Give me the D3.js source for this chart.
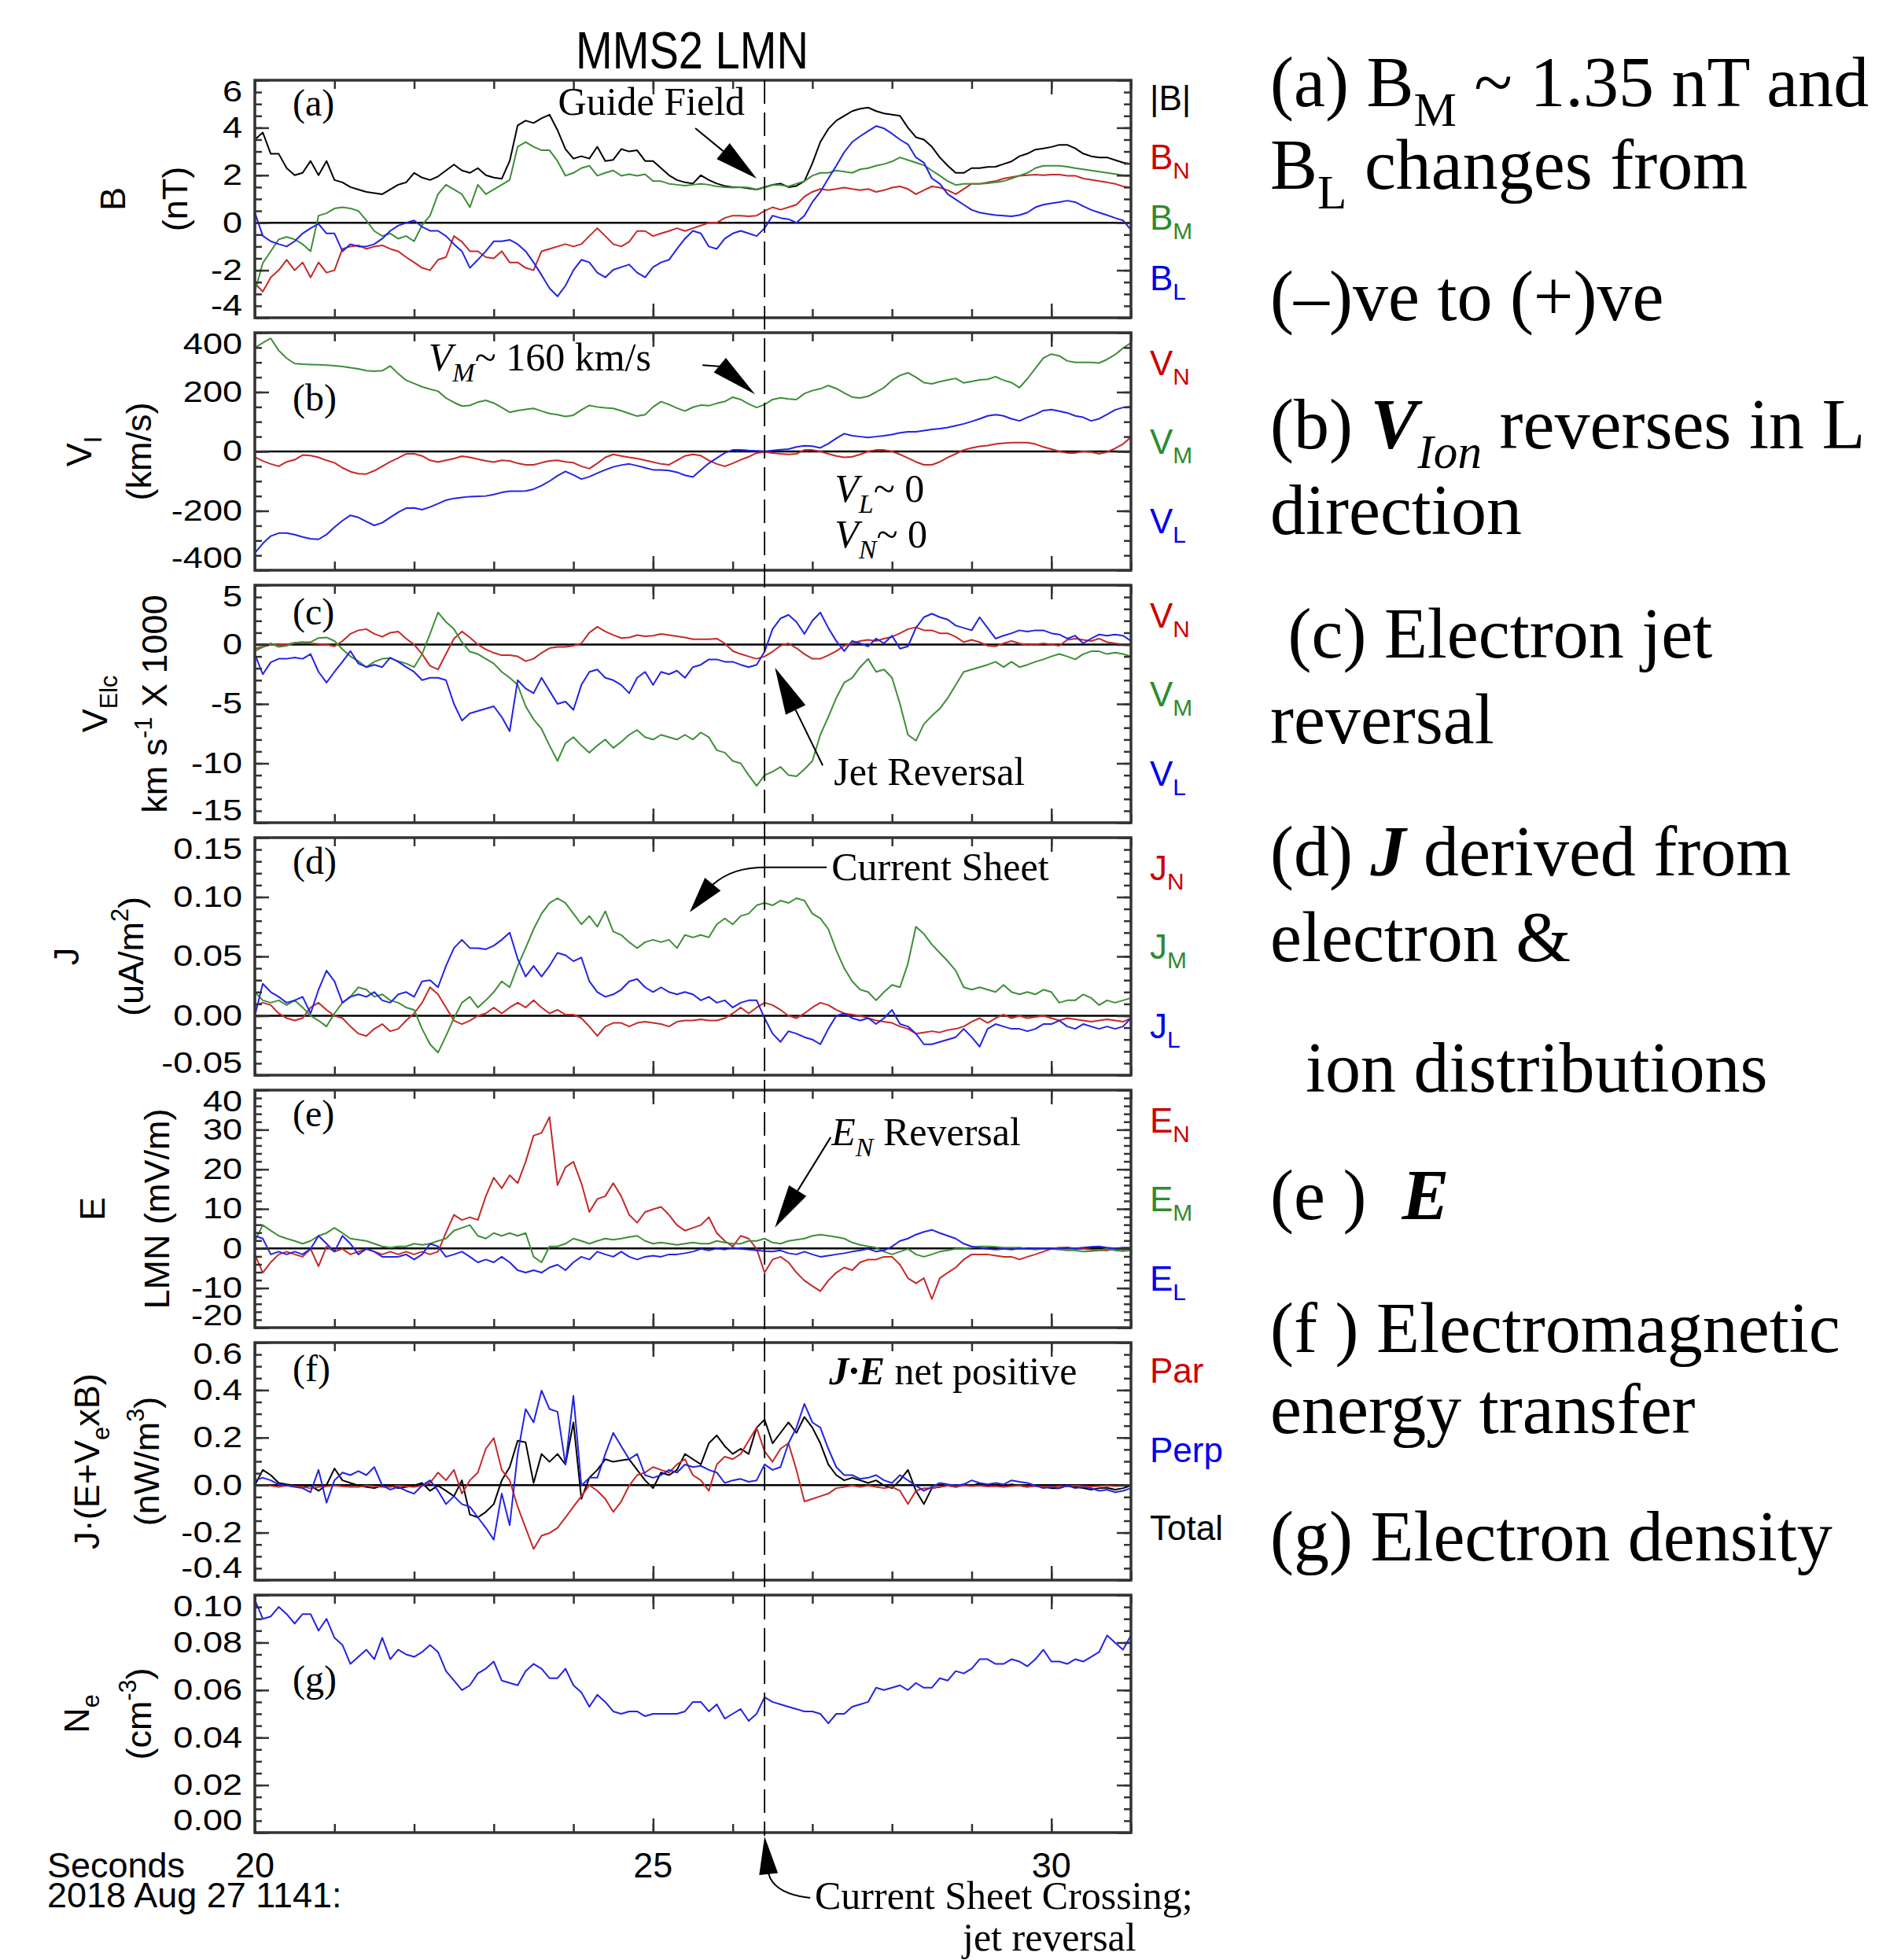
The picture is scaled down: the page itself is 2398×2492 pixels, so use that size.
<!DOCTYPE html>
<html>
<head>
<meta charset="utf-8">
<title>MMS2 LMN</title>
<script src="https://d3js.org/d3.v7.min.js"></script>
<style>
  body { margin: 0; background: #fff; }
  text { white-space: pre; font-family: 'Liberation Sans', Arial, Helvetica, sans-serif; }
  .serif { font-family: 'Liberation Serif', 'Times New Roman', serif; }
</style>
</head>
<body>
<script>
// ---- data: samples every 0.1 s from 20.0 to 31.0 s (2018 Aug 27 11:41) ----
// (a) magnetic field, nT
const bTotal = [3.5, 3.8, 2.9, 2.9, 2.3, 2.0, 2.1, 2.6, 2.0, 2.6, 1.8,
  1.7, 1.5, 1.4, 1.3, 1.25, 1.2, 1.4, 1.6, 1.7, 2.1,
  1.9, 1.8, 1.95, 2.2, 2.45, 2.2, 2.1, 2.3, 2.0, 1.9,
  1.85, 2.6, 4.1, 4.3, 4.2, 4.4, 4.55, 3.9, 3.1, 2.7,
  2.8, 2.7, 3.2, 2.6, 2.65, 3.1, 3.0, 3.05, 2.6, 2.6,
  2.3, 2.0, 1.8, 1.7, 1.65, 2.0, 1.8, 1.65, 1.55, 1.5,
  1.5, 1.45, 1.4, 1.5, 1.6, 1.65, 1.5, 1.55, 1.75, 2.5,
  3.4, 3.95, 4.3, 4.5, 4.7, 4.8, 4.85, 4.7, 4.6, 4.55,
  4.5, 4.0, 3.6, 3.5, 3.2, 2.75, 2.4, 2.1, 2.1, 2.3,
  2.3, 2.35, 2.36, 2.47, 2.58, 2.8, 2.91, 3.08, 3.13, 3.19,
  3.28, 3.28, 3.13, 2.91, 2.8, 2.75, 2.75, 2.64, 2.53, 2.47];
const bN = [-2.55, -2.9, -2.3, -2.0, -1.56, -2.0, -1.67, -2.3, -1.67, -2.1, -2.0,
  -1.1, -1.0, -0.95, -1.1, -1.0, -0.95, -1.1, -1.2, -1.45, -1.67,
  -1.9, -2.0, -1.56, -1.45, -0.56, -0.8, -1.2, -1.2, -1.45, -1.5,
  -1.2, -1.67, -1.67, -1.9, -2.0, -1.2, -1.1, -1.0, -0.9, -1.0,
  -0.9, -0.56, -0.23, -0.56, -0.9, -1.0, -0.8, -0.35, -0.35, -0.56,
  -0.45, -0.35, -0.23, -0.35, -0.23, -0.12, 0.0, 0.0, 0.2, 0.3,
  0.3, 0.27, 0.3, 0.5, 0.65, 0.55, 0.65, 0.76, 1.1, 1.3,
  1.42, 1.37, 1.42, 1.48, 1.42, 1.37, 1.42, 1.3, 1.37, 1.48,
  1.53, 1.42, 1.2, 1.37, 1.53, 1.48, 1.37, 1.2, 1.42, 1.64,
  1.64, 1.7, 1.75, 1.86, 1.92, 1.98, 2.0, 2.03, 2.0, 2.03,
  2.03, 1.98, 1.98, 1.86, 1.81, 1.75, 1.7, 1.64, 1.53, 1.48];
const bM = [-2.9, -1.7, -1.2, -0.7, -0.6, -0.7, -0.9, -1.2, 0.3, 0.4, 0.6,
  0.65, 0.6, 0.5, 0.1, -0.35, -0.56, -0.45, -0.67, -0.56, -0.78,
  -0.1, 0.3, 1.2, 1.6, 1.4, 1.2, 0.65, 1.6, 1.2, 1.4,
  1.6, 1.8, 3.2, 3.4, 3.2, 3.05, 3.05, 2.6, 1.98, 2.1,
  2.3, 2.4, 1.98, 2.1, 2.2, 1.98, 2.04, 1.98, 2.04, 1.75,
  1.75, 1.64, 1.6, 1.56, 1.6, 1.64, 1.6, 1.53, 1.5, 1.48,
  1.5, 1.48, 1.4, 1.48, 1.59, 1.59, 1.53, 1.64, 1.75, 1.98,
  2.1, 2.1, 2.2, 2.15, 2.1, 2.25, 2.3, 2.4, 2.47, 2.58,
  2.75, 2.64, 2.53, 2.42, 2.2, 1.98, 1.75, 1.59, 1.64, 1.64,
  1.64, 1.66, 1.7, 1.75, 1.86, 1.98, 2.1, 2.3, 2.4, 2.4,
  2.4, 2.36, 2.3, 2.25, 2.2, 2.15, 2.1, 2.05, 2.0, 2.0];
const bL = [0.43, -0.55, -0.78, -0.9, -1.0, -0.78, -0.45, -0.23, -0.05, -0.45, -0.45,
  -1.2, -0.9, -1.0, -1.0, -0.9, -0.67, -0.34, -0.12, 0.0, 0.1,
  -0.17, -0.34, -0.34, -0.56, -0.9, -1.2, -1.9, -1.56, -1.2, -0.78,
  -0.78, -0.72, -0.9, -1.2, -1.67, -2.2, -2.76, -3.1, -2.65, -2.0,
  -1.56, -1.67, -2.1, -2.3, -1.98, -1.87, -1.76, -2.1, -2.3, -1.87,
  -1.67, -1.56, -1.1, -0.67, -0.34, -0.45, -1.0, -1.1, -0.67, -0.45,
  -0.34, -0.45, -0.56, -0.23, 0.3, 0.2, 0.15, 0.0, 0.3, 0.87,
  1.3, 1.86, 2.4, 2.97, 3.4, 3.64, 3.86, 4.07, 3.97, 3.75,
  3.5, 3.3, 2.75, 2.53, 1.87, 1.64, 1.2, 0.98, 0.76, 0.54,
  0.43, 0.37, 0.32, 0.3, 0.27, 0.32, 0.43, 0.65, 0.76, 0.82,
  0.87, 0.93, 0.87, 0.7, 0.54, 0.43, 0.32, 0.2, 0.1, -0.3];

// (b) ion velocity, km/s
const viN = [-19, -32, -42, -50, -35, -28, -12, -14, -20, -30, -38,
  -55, -68, -75, -76, -65, -50, -35, -22, -8, -8,
  -15, -30, -36, -30, -24, -16, -20, -26, -32, -36,
  -30, -32, -40, -45, -45, -38, -32, -30, -35, -38,
  -50, -58, -40, -20, -10, -15, -20, -24, -30, -36,
  -42, -45, -30, -15, -10, -14, -30, -42, -50, -40,
  -28, -18, -5, -2, -5, -8, -10, -8, 5, 5,
  0, -8, -15, -20, -18, -10, 0, 5, 5, 0,
  -10, -22, -35, -45, -45, -35, -20, -8, 5, 12,
  17, 20, 25, 28, 30, 30, 30, 25, 15, 8,
  0, -5, -5, 0, -2, -8, -2, 10, 25, 48];
const viM = [349, 366, 381, 340, 314, 296, 294, 293, 292, 291, 289,
  286, 282, 278, 272, 270, 272, 288, 262, 240, 229,
  218, 210, 203, 180, 165, 153, 155, 166, 172, 163,
  148, 132, 138, 142, 145, 136, 128, 124, 118, 122,
  140, 155, 150, 147, 145, 137, 128, 119, 124, 150,
  168, 158, 146, 136, 149, 156, 154, 162, 168, 183,
  175, 160, 148, 158, 175, 181, 177, 175, 195, 205,
  211, 222, 212, 197, 183, 180, 186, 200, 215, 240,
  256, 265, 250, 232, 228, 235, 241, 246, 231, 236,
  241, 243, 252, 240, 232, 215, 245, 280, 315, 328,
  322, 305, 300, 300, 300, 298, 310, 326, 348, 366];
const viL = [-342, -310, -285, -275, -275, -280, -288, -294, -296, -280, -255,
  -233, -215, -222, -236, -249, -240, -222, -205, -191, -190,
  -196, -187, -176, -164, -158, -155, -152, -151, -150, -145,
  -138, -134, -134, -133, -127, -115, -100, -82, -67, -79,
  -93, -85, -73, -62, -52, -46, -42, -48, -55, -62,
  -62, -64, -70, -80, -86, -62, -40, -22, -5, 5,
  5, 3, 2, 0, 3, 6, 8, 15, 19, 18,
  12, 26, 44, 60, 53, 50, 47, 50, 53, 57,
  63, 66, 66, 70, 74, 77, 81, 87, 93, 101,
  110, 120, 124, 120, 110, 103, 115, 125, 138, 141,
  136, 130, 120, 115, 103, 110, 125, 140, 148, 151];

// (c) electron velocity, km/s x 1000
const veN = [-0.35, -0.2, 0.0, 0.05, 0.0, 0.15, 0.2, 0.1, 0.05, 0.0, -0.15,
  0.3, 0.9, 1.2, 1.3, 0.9, 0.65, 1.0, 1.1, 0.5, 0.0,
  -0.8, -1.8, -2.1, -0.8, 0.5, 1.1, 0.6, 0.0, -0.4, -0.7,
  -0.9, -0.9, -1.0, -1.4, -1.2, -0.7, -0.3, -0.2, -0.2, -0.1,
  0.1, 1.0, 1.5, 1.1, 0.8, 0.55, 0.6, 0.8, 0.7, 0.75,
  0.9, 0.8, 0.7, 0.6, 0.45, 0.45, 0.45, 0.5, 0.1, -0.55,
  -0.8, -1.0, -1.2, -1.0, -0.6, -0.1, 0.1, -0.3, -0.8, -1.2,
  -1.2, -0.9, -0.55, -0.1, 0.1, 0.3, 0.4, 0.3, 0.5, 0.65,
  0.95, 1.3, 1.45, 1.2, 1.2, 0.95, 0.95, 0.65, 0.2, 0.4,
  0.2, -0.1, -0.15, 0.1, 0.3, 0.1, -0.05, 0.0, 0.1, 0.0,
  -0.1, 0.4, 0.5, 0.4, 0.3, 0.5, 0.2, 0.1, 0.0, 0.05];
const veM = [-0.57, -0.2, 0.1, -0.2, -0.1, 0.15, 0.2, 0.2, 0.55, 0.6, 0.3,
  -0.4, -1.0, -1.4, -1.9, -1.45, -1.2, -1.15, -1.4, -1.6, -1.9,
  -0.8, 0.9, 2.7, 1.9, 1.3, 0.2, -0.6, -0.8, -1.2, -1.6,
  -2.3, -2.8, -3.4, -5.2, -6.3, -7.1, -8.5, -9.8, -8.3, -7.8,
  -8.5, -9.1, -8.5, -8.0, -8.7, -8.2, -7.6, -7.2, -7.8, -8.0,
  -7.6, -7.8, -8.0, -7.6, -8.0, -7.4, -7.8, -8.9, -9.1, -9.8,
  -10.0, -11.0, -11.9, -11.0, -10.7, -10.3, -11.0, -11.1, -10.5, -9.8,
  -7.6, -6.1, -4.5, -3.2, -2.8, -1.9, -1.2, -2.3, -2.1, -2.8,
  -5.0, -7.6, -8.1, -6.7, -6.0, -5.4, -4.5, -3.4, -2.3, -2.1,
  -1.9, -1.7, -1.45, -1.9, -1.45, -1.9, -1.7, -1.45, -1.25, -1.0,
  -0.8, -1.0, -1.25, -0.8, -0.57, -0.57, -0.8, -0.68, -0.8, -1.0];
const veL = [-0.8, -2.5, -1.5, -1.2, -1.2, -1.1, -1.2, -0.8, -2.3, -3.2, -2.3,
  -1.45, -0.55, -1.6, -1.9, -1.7, -1.9, -1.1, -1.45, -1.9, -2.3,
  -3.0, -2.8, -2.8, -3.0, -5.0, -6.4, -5.8, -5.6, -5.4, -5.2,
  -6.1, -7.3, -3.0, -3.7, -4.1, -2.8, -3.9, -5.0, -4.8, -5.5,
  -3.4, -2.3, -2.1, -2.8, -3.0, -3.4, -4.1, -2.8, -2.3, -3.4,
  -2.3, -2.5, -2.2, -2.8, -1.9, -1.7, -1.25, -1.25, -1.45, -1.45,
  -1.7, -1.9, -1.7, -0.6, 1.3, 2.2, 2.5, 1.9, 0.9, 2.0,
  2.7, 1.4, 0.3, -0.55, 0.3, 0.1, -0.15, 0.5, 0.1, 0.75,
  -0.35, -0.15, 1.4, 2.3, 2.6, 2.3, 2.1, 1.6, 1.4, 1.2,
  2.3, 1.4, 0.5, 0.75, 0.95, 1.2, 1.1, 1.2, 1.2, 0.95,
  0.85, 0.5, 0.75, 0.1, 0.5, 0.85, 0.75, 0.85, 0.75, 0.3];

// (d) current density, uA/m^2
const jN = [0.009, 0.011, 0.009, 0.002, -0.002, -0.004, -0.002, 0.007, 0.011, 0.005, 0.000,
  -0.002, -0.009, -0.015, -0.017, -0.011, -0.007, -0.013, -0.011, -0.004, 0.002,
  0.011, 0.024, 0.018, 0.007, -0.004, -0.007, -0.004, 0.000, 0.002, 0.007,
  0.002, 0.007, 0.011, 0.007, 0.013, 0.007, 0.002, 0.005, 0.001, 0.001,
  -0.002, -0.009, -0.017, -0.009, -0.006, -0.006, -0.009, -0.006, -0.005, -0.006,
  -0.007, -0.009, -0.005, -0.004, -0.004, -0.003, -0.004, -0.004, -0.002, 0.002,
  0.007, 0.002, 0.007, 0.011, 0.009, 0.005, 0.000, -0.002, 0.002, 0.007,
  0.011, 0.009, 0.005, 0.002, 0.001, 0.000, -0.002, -0.004, -0.005, -0.006,
  -0.009, -0.011, -0.015, -0.014, -0.013, -0.014, -0.012, -0.011, -0.009, -0.005,
  -0.002, -0.006, -0.002, 0.001, -0.002, 0.000, -0.002, -0.001, 0.000, -0.002,
  -0.004, -0.002, -0.003, -0.004, -0.005, -0.004, -0.003, -0.004, -0.005, -0.002];
const jM = [0.020, 0.013, 0.011, 0.013, 0.009, 0.013, 0.007, 0.000, -0.004, -0.009, 0.002,
  0.011, 0.016, 0.024, 0.022, 0.016, 0.018, 0.013, 0.011, 0.007, 0.005,
  -0.011, -0.024, -0.031, -0.017, -0.002, 0.011, 0.016, 0.007, 0.013, 0.020,
  0.029, 0.024, 0.042, 0.057, 0.073, 0.086, 0.095, 0.099, 0.095, 0.086,
  0.077, 0.084, 0.075, 0.088, 0.071, 0.068, 0.062, 0.057, 0.062, 0.064,
  0.062, 0.064, 0.057, 0.068, 0.066, 0.068, 0.066, 0.077, 0.082, 0.077,
  0.084, 0.086, 0.093, 0.095, 0.093, 0.097, 0.095, 0.099, 0.097, 0.086,
  0.082, 0.073, 0.055, 0.040, 0.029, 0.022, 0.020, 0.013, 0.020, 0.026,
  0.024, 0.044, 0.075, 0.069, 0.060, 0.053, 0.046, 0.038, 0.024, 0.022,
  0.024, 0.022, 0.020, 0.026, 0.020, 0.018, 0.020, 0.018, 0.022, 0.020,
  0.011, 0.013, 0.013, 0.018, 0.015, 0.009, 0.013, 0.011, 0.013, 0.015];
const jL = [0.000, 0.027, 0.020, 0.016, 0.011, 0.013, 0.016, 0.002, 0.022, 0.038, 0.029,
  0.011, 0.016, 0.018, 0.016, 0.020, 0.013, 0.011, 0.018, 0.020, 0.016,
  0.029, 0.030, 0.024, 0.042, 0.057, 0.064, 0.057, 0.057, 0.056, 0.059,
  0.064, 0.070, 0.048, 0.033, 0.042, 0.033, 0.042, 0.053, 0.051, 0.046,
  0.049, 0.029, 0.020, 0.016, 0.018, 0.022, 0.029, 0.031, 0.024, 0.020,
  0.024, 0.020, 0.018, 0.020, 0.018, 0.013, 0.016, 0.011, 0.013, 0.007,
  0.011, 0.013, 0.013, -0.002, -0.015, -0.022, -0.013, -0.015, -0.018, -0.020,
  -0.024, -0.011, 0.000, 0.002, -0.002, -0.004, -0.002, -0.007, -0.002, 0.005,
  -0.007, -0.009, -0.015, -0.024, -0.024, -0.022, -0.020, -0.018, -0.011, -0.018,
  -0.026, -0.011, -0.007, -0.009, -0.011, -0.011, -0.013, -0.011, -0.007, -0.007,
  -0.004, -0.009, -0.011, -0.007, -0.009, -0.011, -0.009, -0.011, -0.009, -0.002];

// (e) electric field, mV/m
const eN = [-1.5, -6.1, -3.5, -1.5, -0.8, -1.5, -2.1, -0.1, -4.5, 0.5, -0.8,
  -0.1, -1.5, -0.8, -0.1, -0.8, -1.5, -0.8, -1.5, -0.8, -1.5,
  -0.8, -1.5, -0.8, 4.0, 8.5, 7.2, 7.9, 7.2, 13.2, 17.9,
  15.2, 18.5, 16.5, 21.9, 28.5, 29.2, 33.2, 16.0, 20.5, 21.9,
  16.5, 9.2, 12.5, 13.2, 16.5, 13.2, 8.5, 6.5, 9.2, 9.9,
  10.5, 8.5, 5.9, 4.5, 5.2, 5.9, 7.9, 3.9, 1.9, 0.5,
  3.2, 2.5, -0.1, -6.1, -2.8, -2.1, -3.5, -6.1, -8.1, -9.5,
  -10.8, -8.1, -6.1, -4.8, -5.5, -3.5, -2.8, -2.8, -2.1, -2.1,
  -4.1, -7.5, -8.8, -7.5, -12.8, -7.5, -6.1, -4.8, -2.8, -1.5,
  -1.5, -1.5, -1.8, -2.1, -2.1, -2.8, -2.1, -1.5, -0.8, -0.1,
  0.2, 0.2, -0.1, -0.1, -0.3, -0.5, -0.5, -0.1, -0.3, -0.1];
const eM = [1.9, 5.9, 4.5, 3.2, 2.5, 1.9, 1.2, 1.9, 3.2, 3.9, 5.2,
  3.9, 2.5, 2.2, 1.9, 1.2, 0.5, 0.2, 0.5, 0.5, 1.2,
  0.9, 1.2, 1.9, 2.5, 4.5, 5.2, 5.9, 3.2, 2.5, 3.9,
  3.2, 3.9, 3.2, 3.9, -2.1, -3.5, 0.5, 0.5, 1.2, 2.5,
  1.9, 1.2, 1.9, 2.5, 2.2, 2.5, 2.9, 3.2, 1.9, 1.2,
  1.5, 1.2, 0.9, 1.2, 1.5, 1.2, 1.2, 1.9, 1.5, 1.2,
  1.2, 1.9, 1.9, 2.5, 1.5, 1.2, 1.9, 2.2, 2.5, 3.2,
  3.5, 3.2, 2.9, 2.5, 1.5, 0.9, 0.5, 0.2, -0.8, -1.5,
  -0.8, -0.1, -1.5, -2.1, -1.5, -0.8, -0.5, -0.1, 0.0, 0.2,
  0.5, 0.5, 0.4, 0.2, 0.2, 0.2, -0.1, -0.3, -0.1, -0.1,
  -0.3, -0.5, -0.5, -0.8, -0.7, -0.5, -0.1, -0.5, -0.7, -0.5];
const eL = [3.2, 2.5, -1.5, -0.8, -1.5, -0.8, -1.5, -0.1, 3.2, 1.2, -0.8,
  3.2, 1.2, -1.5, -0.1, -0.8, -2.1, -2.1, -2.1, -1.5, -2.8,
  -1.5, 1.2, 0.5, -2.1, -1.5, -0.8, -2.1, -3.5, -2.8, -3.5,
  -2.1, -3.5, -5.5, -6.1, -5.5, -6.1, -4.8, -4.1, -5.5, -3.5,
  -2.1, -2.8, -0.8, -1.5, -2.1, -0.8, -2.1, -2.8, -2.1, -1.8,
  -2.1, -1.5, -1.5, -1.2, -0.8, -0.1, -0.5, 0.0, -0.3, 0.2,
  -0.1, -0.3, -0.5, -0.7, -0.8, -0.5, -1.2, -1.5, -0.8, -1.5,
  -2.1, -1.8, -1.5, -1.2, -0.8, -0.5, -0.1, -0.8, -0.5, 0.5,
  1.9, 2.5, 3.5, 4.2, 4.7, 3.9, 3.2, 2.5, 1.2, 0.5,
  0.2, -0.1, -0.3, -0.1, -0.3, 0.0, -0.1, 0.0, 0.0, -0.1,
  0.0, 0.2, 0.0, 0.2, 0.4, 0.5, 0.2, 0.0, 0.2, 0.2];

// (f) J.(E+Ve x B), nW/m^3
const jePar = [-0.002, -0.002, -0.003, -0.008, -0.002, -0.005, -0.008, -0.013, -0.008, -0.005, -0.002,
  -0.005, -0.008, -0.008, -0.002, -0.005, -0.008, -0.008, -0.002, -0.005, -0.008,
  -0.002, 0.009, 0.053, 0.020, 0.064, -0.036, 0.020, 0.053, 0.153, 0.198,
  0.064, 0.020, -0.091, -0.180, -0.269, -0.213, -0.202, -0.180, -0.136, -0.091,
  -0.047, 0.000, -0.024, -0.058, -0.113, -0.069, -0.002, 0.042, 0.053, 0.076,
  0.064, 0.053, 0.087, 0.109, 0.042, 0.020, -0.024, 0.087, 0.120, 0.109,
  0.131, 0.187, 0.242, 0.142, 0.098, 0.153, 0.176, 0.064, -0.069, -0.058,
  -0.047, -0.036, -0.013, -0.008, -0.002, -0.008, -0.002, -0.008, -0.013, -0.008,
  -0.024, -0.080, -0.024, -0.013, -0.013, -0.008, -0.002, -0.008, -0.002, -0.004,
  -0.002, -0.006, -0.004, -0.008, -0.004, -0.002, -0.006, -0.004, -0.006, -0.008,
  -0.004, -0.006, -0.002, -0.004, -0.006, -0.004, -0.002, -0.004, -0.002, -0.002];
const jePerp = [0.020, 0.031, 0.020, 0.003, -0.002, -0.008, -0.013, -0.030, 0.064, -0.074, 0.020,
  0.053, 0.042, 0.059, 0.042, 0.076, -0.002, -0.019, -0.008, -0.024, -0.036,
  -0.002, 0.020, -0.024, -0.080, -0.047, -0.080, -0.091, -0.136, -0.180, -0.230,
  -0.036, -0.169, 0.131, 0.320, 0.264, 0.398, 0.320, 0.309, 0.087, 0.376,
  -0.002, 0.031, 0.031, 0.131, 0.220, 0.164, 0.109, 0.131, 0.042, 0.031,
  0.042, 0.064, 0.053, 0.087, 0.076, 0.081, 0.064, 0.053, 0.009, 0.020,
  0.026, 0.014, 0.020, 0.087, 0.064, 0.076, 0.176, 0.242, 0.342, 0.264,
  0.242, 0.153, 0.076, 0.042, 0.042, 0.026, 0.031, 0.042, 0.020, 0.009,
  0.042, 0.020, -0.002, -0.024, -0.008, 0.009, 0.003, -0.002, 0.003, 0.020,
  0.009, 0.003, 0.009, 0.003, 0.020, 0.014, 0.009, -0.002, -0.013, -0.008,
  -0.013, -0.002, -0.013, -0.008, -0.013, -0.024, -0.019, -0.030, -0.024, -0.013];
const jeTotal = [0.000, 0.064, 0.042, 0.009, 0.003, -0.002, -0.008, -0.002, -0.024, 0.000, 0.070,
  0.020, 0.009, -0.002, -0.008, -0.013, -0.002, -0.002, -0.013, -0.008, -0.002,
  0.009, -0.024, -0.002, -0.024, -0.047, 0.020, -0.124, -0.136, -0.113, -0.080,
  0.020, 0.076, 0.187, 0.180, 0.009, 0.131, 0.098, 0.131, 0.087, 0.264,
  -0.058, 0.031, 0.064, 0.109, 0.098, 0.104, 0.109, 0.064, 0.020, -0.013,
  0.053, 0.042, 0.064, 0.131, 0.109, 0.087, 0.176, 0.209, 0.164, 0.131,
  0.153, 0.131, 0.242, 0.276, 0.176, 0.220, 0.264, 0.220, 0.287, 0.242,
  0.176, 0.087, 0.042, 0.020, 0.031, 0.020, 0.009, 0.020, -0.002, -0.013,
  0.020, 0.064, -0.024, -0.080, -0.013, -0.008, -0.002, -0.008, 0.003, -0.002,
  0.007, -0.002, 0.000, -0.002, 0.003, -0.002, -0.008, -0.002, -0.008, -0.013,
  -0.013, -0.002, -0.008, -0.013, -0.019, -0.013, -0.011, -0.019, -0.013, -0.002];

// (g) electron density, cm^-3
const ne = [0.098, 0.090, 0.091, 0.095, 0.092, 0.088, 0.092, 0.092, 0.085, 0.090, 0.082,
  0.079, 0.071, 0.074, 0.077, 0.073, 0.082, 0.073, 0.077, 0.075, 0.074,
  0.076, 0.079, 0.076, 0.068, 0.064, 0.060, 0.062, 0.067, 0.069, 0.072,
  0.064, 0.063, 0.062, 0.068, 0.071, 0.069, 0.065, 0.065, 0.069, 0.062,
  0.059, 0.053, 0.058, 0.055, 0.051, 0.050, 0.051, 0.051, 0.049, 0.050,
  0.050, 0.050, 0.050, 0.051, 0.055, 0.055, 0.051, 0.054, 0.048, 0.050,
  0.052, 0.047, 0.050, 0.057, 0.055, 0.054, 0.053, 0.052, 0.051, 0.051,
  0.050, 0.046, 0.050, 0.050, 0.053, 0.054, 0.055, 0.061, 0.060, 0.061,
  0.062, 0.060, 0.063, 0.061, 0.061, 0.065, 0.064, 0.068, 0.067, 0.069,
  0.073, 0.073, 0.071, 0.071, 0.073, 0.072, 0.070, 0.073, 0.077, 0.072,
  0.072, 0.071, 0.073, 0.072, 0.074, 0.076, 0.083, 0.080, 0.077, 0.083];

const time = bTotal.map((d, i) => 20 + i / 10);
const crossing = 26.4;
const secTicks = [20, 21, 22, 23, 24, 25, 26, 27, 28, 29, 30, 31];
const secLabels = [20, 25, 30];

// ---- layout ----
const W = 2398, H = 2492;
const top0 = 102, pitch = 321, panelH = 302;
const x = d3.scaleLinear().domain([20, 31]).range([324, 1438]);
const X0 = x.range()[0], X1 = x.range()[1];

const red = '#c42a2a', green = '#3e8e38', blue = '#2323e2', black = '#000';
const redT = '#cc0000', greenT = '#2e8b2e', blueT = '#0000ee';

const fmt0 = d => String(d);
const fmt2 = d => d.toFixed(2);
const fmt1 = d => d.toFixed(1);
const lg3 = [54, 154, 255];

const panels = [
  { domain: [-4, 6], ticks: [-4, -2, 0, 2, 4, 6], minor: 0.5, fmt: fmt0, zero: true,
    series: [[bTotal, black], [bN, red], [bM, green], [bL, blue]],
    legend: [[[['|B|', 'n']], black], [[['B', 'n'], ['N', 'sub']], redT],
             [[['B', 'n'], ['M', 'sub']], greenT], [[['B', 'n'], ['L', 'sub']], blueT]],
    legendY: [38, 113, 190, 267],
    title: [[['B', 'n']], [['(nT)', 'n']]], titleX: [159, 238], label: '(a)', labelY: 45 },
  { domain: [-400, 400], ticks: [-400, -200, 0, 200, 400], minor: 50, fmt: fmt0, zero: true,
    series: [[viN, red], [viM, green], [viL, blue]],
    legend: [[[['V', 'n'], ['N', 'sub']], redT], [[['V', 'n'], ['M', 'sub']], greenT], [[['V', 'n'], ['L', 'sub']], blueT]],
    legendY: lg3,
    title: [[['V', 'n'], ['I', 'sub']], [['(km/s)', 'n']]], titleX: [116, 192], label: '(b)', labelY: 99 },
  { domain: [-15, 5], ticks: [-15, -10, -5, 0, 5], minor: 1, fmt: fmt0, zero: true,
    series: [[veN, red], [veM, green], [veL, blue]],
    legend: [[[['V', 'n'], ['N', 'sub']], redT], [[['V', 'n'], ['M', 'sub']], greenT], [[['V', 'n'], ['L', 'sub']], blueT]],
    legendY: lg3,
    title: [[['V', 'n'], ['Elc', 'sub']], [['km s', 'n'], ['-1', 'sup'], [' X 1000', 'n']]], titleX: [136, 212], label: '(c)', labelY: 50 },
  { domain: [-0.05, 0.15], ticks: [-0.05, 0, 0.05, 0.10, 0.15], minor: 0.01, fmt: fmt2, zero: true,
    series: [[jN, red], [jM, green], [jL, blue]],
    legend: [[[['J', 'n'], ['N', 'sub']], redT], [[['J', 'n'], ['M', 'sub']], greenT], [[['J', 'n'], ['L', 'sub']], blueT]],
    legendY: lg3,
    title: [[['J', 'n']], [['(uA/m', 'n'], ['2', 'sup'], [')', 'n']]], titleX: [100, 182], label: '(d)', labelY: 46 },
  { domain: [-20, 40], ticks: [-20, -10, 0, 10, 20, 30, 40], minor: 2, fmt: fmt0, zero: true,
    series: [[eN, red], [eM, green], [eL, blue]],
    legend: [[[['E', 'n'], ['N', 'sub']], redT], [[['E', 'n'], ['M', 'sub']], greenT], [[['E', 'n'], ['L', 'sub']], blueT]],
    legendY: lg3,
    title: [[['E', 'n']], [['LMN (mV/m)', 'n']]], titleX: [133, 215], label: '(e)', labelY: 46 },
  { domain: [-0.4, 0.6], ticks: [-0.4, -0.2, 0, 0.2, 0.4, 0.6], minor: 0.05, fmt: fmt1, zero: true,
    series: [[jeTotal, black], [jePar, red], [jePerp, blue]],
    legend: [[[['Par', 'n']], redT], [[['Perp', 'n']], blueT], [[['Total', 'n']], black]],
    legendY: [51, 152, 251],
    title: [[['J\u00b7(E+V', 'n'], ['e', 'sub'], ['xB)', 'n']], [['(nW/m', 'n'], ['3', 'sup'], [')', 'n']]], titleX: [126, 202], label: '(f)', labelY: 49 },
  { domain: [0, 0.1], ticks: [0, 0.02, 0.04, 0.06, 0.08, 0.10], minor: 0.005, fmt: fmt2, zero: false,
    series: [[ne, blue]],
    legend: [], legendY: [],
    title: [[['N', 'n'], ['e', 'sub']], [['(cm', 'n'], ['-3', 'sup'], [')', 'n']]], titleX: [113, 192], label: '(g)', labelY: 123 }
];

const svg = d3.select('body').append('svg').attr('width', W).attr('height', H)
  .style('background', '#fff');

function rich(sel, segs, size) {
  let shift = 0;
  segs.forEach(([s, k]) => {
    const ts = sel.append('tspan').text(s);
    let target = 0;
    if (k === 'sub' || k === 'isub') { target = size * 0.28; ts.attr('font-size', size * 0.68); }
    if (k === 'sup') { target = -size * 0.42; ts.attr('font-size', size * 0.68); }
    if (target !== shift) { ts.attr('dy', target - shift); shift = target; }
    if (k === 'i' || k === 'isub' || k === 'bi') ts.attr('font-style', 'italic');
    if (k === 'bi') ts.attr('font-weight', 'bold');
  });
}

function styleAxis(g) {
  g.select('.domain').remove();
  g.selectAll('.tick line').attr('stroke', '#333').attr('stroke-width', 2.5);
}

panels.forEach((p, i) => {
  const top = top0 + i * pitch, bottom = top + panelH;
  const y = d3.scaleLinear().domain(p.domain).range([bottom, top]);
  p.y = y; p.top = top; p.bottom = bottom;
  const g = svg.append('g');

  if (p.zero) {
    g.append('line').attr('x1', X0).attr('x2', X1).attr('y1', y(0)).attr('y2', y(0))
      .attr('stroke', '#000').attr('stroke-width', 2.5);
  }

  const line = d3.line().x((d, j) => x(time[j])).y(d => y(d));
  p.series.forEach(([vals, col]) => {
    g.append('path').datum(vals).attr('fill', 'none').attr('stroke', col)
      .attr('stroke-width', 2).attr('stroke-linejoin', 'round').attr('d', line);
  });

  // y ticks, inward on both sides
  const minorVals = d3.range(p.domain[0], p.domain[1] + p.minor / 2, p.minor);
  g.append('g').attr('transform', `translate(${X0},0)`)
    .call(d3.axisLeft(y).tickValues(minorVals).tickSize(-9).tickFormat('')).call(styleAxis);
  g.append('g').attr('transform', `translate(${X1},0)`)
    .call(d3.axisRight(y).tickValues(minorVals).tickSize(-9).tickFormat('')).call(styleAxis);
  g.append('g').attr('transform', `translate(${X1},0)`)
    .call(d3.axisRight(y).tickValues(p.ticks).tickSize(-18).tickFormat('')).call(styleAxis);
  const left = g.append('g').attr('transform', `translate(${X0},0)`)
    .call(d3.axisLeft(y).tickValues(p.ticks).tickSize(-18).tickPadding(13).tickFormat(p.fmt))
    .call(styleAxis);
  // the tick numbers of the original are short and wide
  left.attr('font-size', 37).attr('font-family', null);
  left.selectAll('.tick text').attr('fill', '#000')
    .attr('transform', d => (d === p.domain[1] ? 'translate(0,15) ' : d === p.domain[0] ? 'translate(0,-15) ' : '') + 'scale(1.22,1)');

  // x ticks, inward on top and bottom
  [[d3.axisTop, top], [d3.axisBottom, bottom]].forEach(([ax, yy]) => {
    g.append('g').attr('transform', `translate(0,${yy})`)
      .call(ax(x).tickValues(secTicks).tickSize(-11).tickFormat('')).call(styleAxis);
    g.append('g').attr('transform', `translate(0,${yy})`)
      .call(ax(x).tickValues(secLabels).tickSize(-18).tickFormat('')).call(styleAxis);
  });

  g.append('rect').attr('x', X0).attr('y', top).attr('width', X1 - X0).attr('height', panelH)
    .attr('fill', 'none').attr('stroke', '#333').attr('stroke-width', 3.5);

  // legend on the right
  p.legend.forEach(([segs, col], j) => {
    const t = svg.append('text').attr('x', 1462).attr('y', top + p.legendY[j])
      .attr('fill', col).attr('font-size', 44);
    rich(t, segs, 44);
  });

  // rotated y titles
  p.title.forEach((segs, j) => {
    const t = svg.append('text')
      .attr('transform', `translate(${p.titleX[j]},${(top + bottom) / 2}) rotate(-90)`)
      .attr('text-anchor', 'middle').attr('font-size', 45).attr('fill', '#000');
    rich(t, segs, 45);
  });

  svg.append('text').attr('class', 'serif').attr('x', 372).attr('y', top + p.labelY)
    .attr('font-size', 48).text(p.label);
});

// dashed line at the current sheet crossing
svg.append('line').attr('x1', x(crossing)).attr('x2', x(crossing))
  .attr('y1', top0).attr('y2', panels[6].bottom + 4)
  .attr('stroke', '#000').attr('stroke-width', 1.8).attr('stroke-dasharray', '30,11');

// ---- annotations ----
function note(px, py, segs, anchor) {
  const t = svg.append('text').attr('class', 'serif').attr('x', px).attr('y', py)
    .attr('font-size', 50).attr('fill', '#000').attr('text-anchor', anchor || 'start');
  rich(t, segs, 50);
}
function head(from, tip, len, wid) {
  const dx = tip[0] - from[0], dy = tip[1] - from[1], L = Math.hypot(dx, dy);
  const ux = dx / L, uy = dy / L;
  const bx = tip[0] - ux * len, by = tip[1] - uy * len;
  const px = -uy * wid / 2, py = ux * wid / 2;
  svg.append('path').attr('d', `M${tip[0]},${tip[1]}L${bx + px},${by + py}L${bx - px},${by - py}Z`)
    .attr('fill', '#000');
  return [bx, by];
}
function arrow(from, tip, len, wid) {
  const base = head(from, tip, len, wid);
  svg.append('line').attr('x1', from[0]).attr('y1', from[1]).attr('x2', base[0]).attr('y2', base[1])
    .attr('stroke', '#000').attr('stroke-width', 2);
}
const [pa, pb, pc, pd, pe, pf, pg] = panels;
const P = (p, t, v) => [x(t), p.y(v)];

note(x(24.98), pa.y(4.55), [['Guide Field', 'n']], 'middle');
arrow(P(pa, 25.53, 3.98), P(pa, 26.30, 1.86), 55, 26);

note(x(22.18), pb.y(273), [['V', 'i'], ['M', 'isub'], ['~ 160 km/s', 'n']]);
{
  const a0 = P(pb, 25.62, 291), a1 = P(pb, 25.86, 286), tip = P(pb, 26.28, 193);
  svg.append('path').attr('d', `M${a0}L${a1}`).attr('fill', 'none').attr('stroke', '#000').attr('stroke-width', 2);
  head(a1, tip, 58, 24);
}
note(x(27.28), pb.y(-170), [['V', 'i'], ['L', 'isub'], ['~ 0', 'n']]);
note(x(27.28), pb.y(-323), [['V', 'i'], ['N', 'isub'], ['~ 0', 'n']]);

note(x(27.27), pc.y(-11.83), [['Jet Reversal', 'n']]);
arrow(P(pc, 27.13, -10.18), P(pc, 26.53, -1.93), 60, 28);

note(x(27.24), pd.y(0.114), [['Current Sheet', 'n']]);
{
  const s = P(pd, 27.18, 0.125), m = P(pd, 26.43, 0.125), c1 = P(pd, 26.13, 0.125),
        c2 = P(pd, 25.93, 0.121), e = P(pd, 25.74, 0.110), tip = P(pd, 25.46, 0.0873);
  svg.append('path').attr('d', `M${s}L${m}C${c1} ${c2} ${e}`)
    .attr('fill', 'none').attr('stroke', '#000').attr('stroke-width', 2);
  head(e, tip, 46, 26);
}

note(x(27.24), pe.y(26.1), [['E', 'i'], ['N', 'isub'], [' Reversal', 'n']]);
arrow(P(pe, 27.23, 28.1), P(pe, 26.53, 5.3), 55, 26);

note(x(27.21), pf.y(0.424), [['J\u00b7E', 'bi'], [' net positive', 'n']]);

// bottom time axis labels
const gb = pg.bottom;
secLabels.forEach(s => {
  svg.append('text').attr('x', x(s)).attr('y', gb + 57).attr('text-anchor', 'middle')
    .attr('font-size', 45).text(s);
});
svg.append('text').attr('x', 60).attr('y', gb + 57).attr('font-size', 45).text('Seconds');
svg.append('text').attr('x', 60).attr('y', gb + 95).attr('font-size', 45).text('2018 Aug 27 1141:');

{
  const tip = [x(crossing), gb + 5], e = [x(crossing) + 5, gb + 52];
  svg.append('path').attr('d', `M${x(crossing) + 58},${gb + 83}Q${x(crossing) + 12},${gb + 78} ${e}`)
    .attr('fill', 'none').attr('stroke', '#000').attr('stroke-width', 2);
  head(e, tip, 48, 24);
}
note(1036, gb + 97, [['Current Sheet Crossing;', 'n']]);
note(1224, gb + 150, [['jet reversal', 'n']]);

// title: tall, narrow lettering as in the original
svg.append('text').attr('x', 880).attr('y', 87).attr('text-anchor', 'middle')
  .attr('font-size', 66).attr('textLength', 296).attr('lengthAdjust', 'spacingAndGlyphs')
  .text('MMS2 LMN');

// ---- summary text on the right ----
const notes = [
  [['(a) B', 'n'], ['M', 'sub'], [' ~ 1.35 nT and', 'n']],
  [['B', 'n'], ['L', 'sub'], [' changes from', 'n']],
  [['(\u2013)ve to (+)ve', 'n']],
  [['(b) ', 'n'], ['V', 'bi'], ['Ion', 'isub'], [' reverses in L', 'n']],
  [['direction', 'n']],
  [[' (c) Electron jet', 'n']],
  [['reversal', 'n']],
  [['(d) ', 'n'], ['J', 'bi'], [' derived from', 'n']],
  [['electron &', 'n']],
  [['  ion distributions', 'n']],
  [['(e )  ', 'n'], ['E', 'bi']],
  [['(f ) Electromagnetic', 'n']],
  [['energy transfer', 'n']],
  [['(g) Electron density', 'n']]
];
const noteY = [135, 240, 407, 570, 679, 836, 945, 1113, 1222, 1388, 1550, 1719, 1822, 1984];
notes.forEach((segs, i) => {
  const t = svg.append('text').attr('class', 'serif').attr('x', 1615).attr('y', noteY[i])
    .attr('font-size', 90).attr('fill', '#000');
  rich(t, segs, 90);
});
</script>
</body>
</html>
